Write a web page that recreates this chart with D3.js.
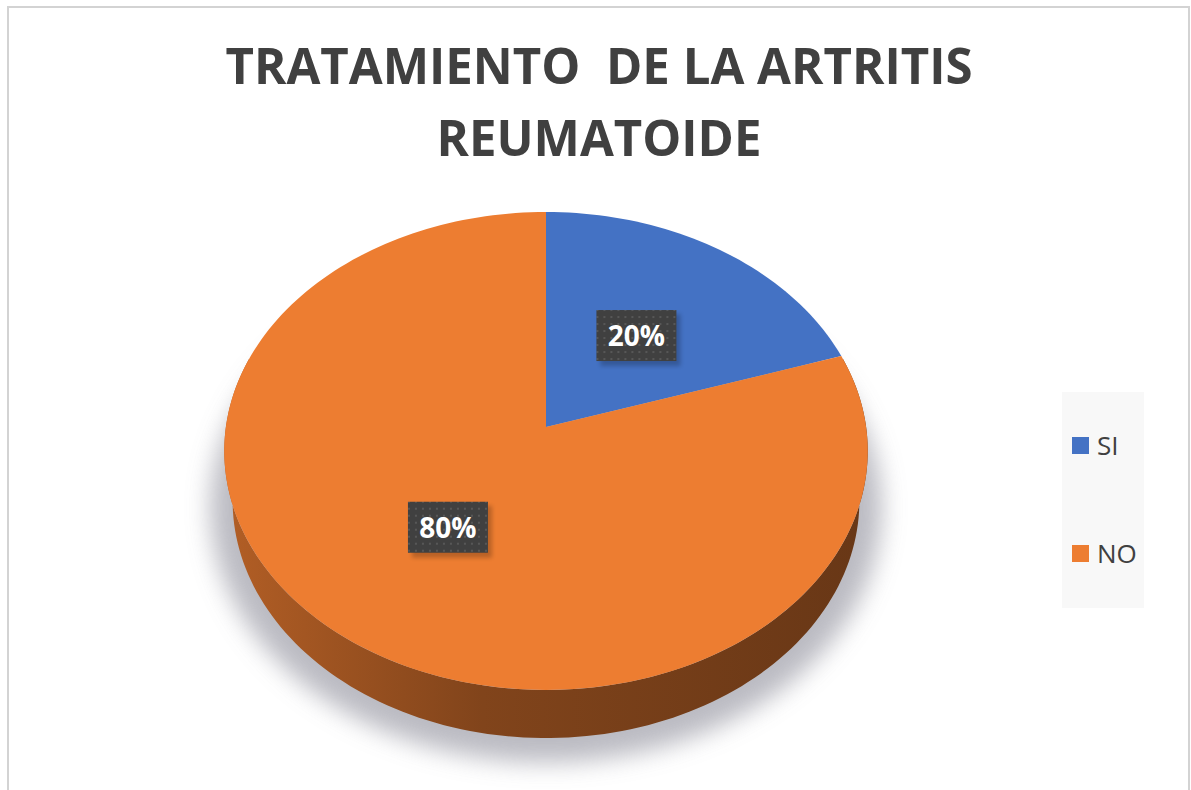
<!DOCTYPE html>
<html>
<head>
<meta charset="utf-8">
<script src="https://cdn.jsdelivr.net/npm/d3@7"></script>
<style>
  body { margin: 0; background: #fff; }
  svg { display: block; }
</style>
</head>
<body>
<div id="viz"></div>
<script>
var title = ["TRATAMIENTO  DE LA ARTRITIS", "REUMATOIDE"];
var categories = ["SI", "NO"];
var values = [20, 80];
var labels = ["20%", "80%"];
var colors = ["#4472c4", "#ed7d31"];

var width = 1191,
    height = 790;

// 3d tilt / perspective settings
var cx = 546, cy = 427,
    F = 2148,          // focal scale
    invA = 6.71,       // camera distance / radius
    sinT = 0.739, cosT = 0.673,
    thick = 0.239;     // disc thickness, in radii

function proj(u, w, yh) {
  var yc = w * sinT + yh * cosT,
      zc = invA + w * cosT - yh * sinT;
  return [cx + F * u / zc, cy - F * yc / zc];
}
function rim(a, r, yh) {
  return proj(r * Math.sin(a), r * Math.cos(a), yh);
}

var svg = d3.select('#viz').append('svg')
  .attr('width', width)
  .attr('height', height);

var defs = svg.append('defs');

defs.append('filter').attr('id', 'blur')
  .attr('x', '-20%').attr('y', '-20%').attr('width', '140%').attr('height', '140%')
  .append('feGaussianBlur').attr('stdDeviation', 12);

defs.append('filter').attr('id', 'blur2')
  .append('feGaussianBlur').attr('stdDeviation', 2);

var pat = defs.append('pattern').attr('id', 'dots')
  .attr('width', 7).attr('height', 7)
  .attr('patternUnits', 'userSpaceOnUse');
pat.append('rect').attr('width', 7).attr('height', 7).attr('fill', '#404040');
pat.append('rect').attr('x', 2).attr('y', 2).attr('width', 2).attr('height', 2).attr('fill', '#575757');

// chart frame
svg.append('rect')
  .attr('x', 8).attr('y', 7)
  .attr('width', 1181).attr('height', 800)
  .attr('fill', '#fff')
  .attr('stroke', '#d3d3d3')
  .attr('stroke-width', 2);

// title
svg.append('g').selectAll('text').data(title)
  .enter().append('text')
    .attr('x', 599)
    .attr('y', function(d, i) { return 84 + i * 72; })
    .attr('text-anchor', 'middle')
    .attr('textLength', function(d, i) { return i == 0 ? 747 : 325; })
    .attr('lengthAdjust', 'spacingAndGlyphs')
    .style('white-space', 'pre')
    .style('font-family', '"Open Sans", sans-serif')
    .style('font-weight', 700)
    .style('font-size', '50px')
    .style('fill', '#404040')
    .text(function(d) { return d; });

var pie = d3.pie().sort(null);
var arcs = pie(values);

var line = d3.line();
var N = 120;

// shadow under the disc
var shadowPts = [];
for (var i = 0; i <= N; i++) {
  var a = i / N * 2 * Math.PI;
  var p = rim(a, 1.07, -thick);
  shadowPts.push([p[0], p[1] + 4]);
}
svg.append('path')
  .attr('d', line(shadowPts) + 'Z')
  .attr('fill', '#a4a4ae')
  .attr('opacity', 0.75)
  .attr('filter', 'url(#blur)');

// side walls (front half only)
var sideFrom = Math.PI / 2 - 0.3,
    sideTo = 3 * Math.PI / 2 + 0.3;

arcs.forEach(function(d, k) {
  var a0 = Math.max(d.startAngle, sideFrom),
      a1 = Math.min(d.endAngle, sideTo);
  if (a1 <= a0) return;
  var gid = 'side' + k;
  var base = d3.color(colors[k]);
  var g = defs.append('linearGradient').attr('id', gid)
    .attr('gradientUnits', 'userSpaceOnUse')
    .attr('x1', cx - 320).attr('x2', cx + 320).attr('y1', 0).attr('y2', 0);
  g.append('stop').attr('offset', '0%').attr('stop-color', base.darker(0.8));
  g.append('stop').attr('offset', '40%').attr('stop-color', base.darker(1.7));
  g.append('stop').attr('offset', '100%').attr('stop-color', base.darker(2.3));
  var top = [], bot = [];
  var n = Math.ceil((a1 - a0) / (2 * Math.PI) * N * 2);
  for (var i = 0; i <= n; i++) {
    var a = a0 + (a1 - a0) * i / n;
    top.push(rim(a, 1, 0));
    bot.push(rim(a, 1, -thick));
  }
  svg.append('path')
    .attr('d', line(top.concat(bot.reverse())) + 'Z')
    .attr('fill', 'url(#' + gid + ')');
});

// top faces
svg.append('g').selectAll('path').data(arcs)
  .enter().append('path')
    .attr('d', function(d) {
      var pts = [proj(0, 0, 0)];
      var n = Math.ceil((d.endAngle - d.startAngle) / (2 * Math.PI) * N * 2);
      for (var i = 0; i <= n; i++) {
        pts.push(rim(d.startAngle + (d.endAngle - d.startAngle) * i / n, 1, 0));
      }
      return line(pts) + 'Z';
    })
    .style('fill', function(d, i) { return colors[i]; });

// data labels
var lab = svg.append('g').selectAll('g').data(arcs)
  .enter().append('g')
    .attr('transform', function(d) {
      var p = rim((d.startAngle + d.endAngle) / 2, 0.5, 0);
      return 'translate(' + p[0] + ',' + p[1] + ')';
    });
lab.append('rect')
  .attr('x', -36).attr('y', -21).attr('width', 80).attr('height', 52)
  .attr('fill', '#000').attr('opacity', 0.22)
  .attr('filter', 'url(#blur2)');
lab.append('rect')
  .attr('x', -40).attr('y', -25).attr('width', 80).attr('height', 51)
  .attr('fill', 'url(#dots)');
lab.append('text')
  .attr('y', 11)
  .attr('text-anchor', 'middle')
  .style('font-family', '"Open Sans", sans-serif')
  .style('font-weight', 700)
  .style('font-size', '28px')
  .style('fill', '#fff')
  .text(function(d, i) { return labels[i]; });

// legend
var legend = svg.append('g');
legend.append('rect')
  .attr('x', 1062).attr('y', 392)
  .attr('width', 82).attr('height', 216)
  .attr('fill', '#f8f8f8');

var item = legend.selectAll('g').data(categories)
  .enter().append('g')
    .attr('transform', function(d, i) { return 'translate(1072,' + (437 + i * 108) + ')'; });
item.append('rect')
  .attr('width', 17).attr('height', 17)
  .style('fill', function(d, i) { return colors[i]; });
item.append('text')
  .attr('x', 25).attr('y', 18)
  .style('font-family', '"Open Sans", sans-serif')
  .style('font-size', '26px')
  .style('fill', '#404040')
  .text(function(d) { return d; });
</script>
</body>
</html>
